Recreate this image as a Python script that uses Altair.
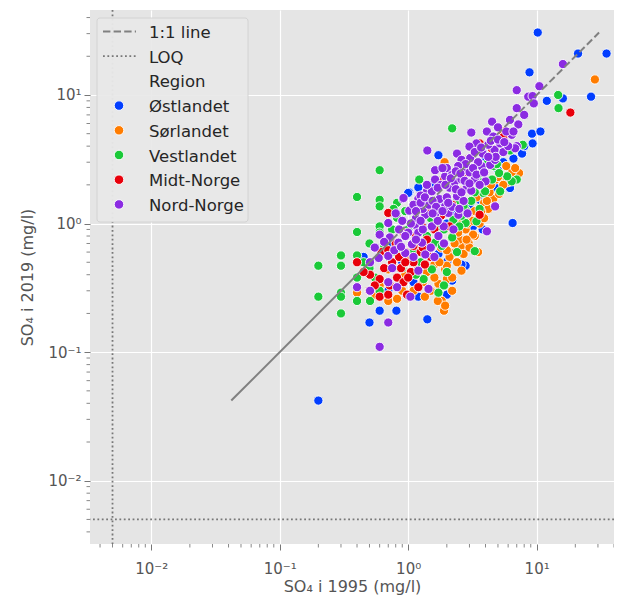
import altair as alt
import pandas as pd

# ---------------- data ----------------
regions = ["Østlandet", "Sørlandet", "Vestlandet", "Midt-Norge", "Nord-Norge"]
colors = ["#023eff", "#ff7c00", "#1ac938", "#e8000b", "#8b2be2"]

ost_x = [10.2, 21, 35, 8.8, 26.5, 12, 16, 9.2, 10.7, 9.3, 6.6, 7.7, 5.4, 6.2, 6.5, 3.6, 2.4, 1.72, 2.02, 2.8,
         1.72, 1.02, 1.2, 1.0, 0.2, 0.5, 1.41, 0.6, 0.81, 1.2, 2.0, 4.2, 5.0, 3.0, 1.5, 0.9, 2.8, 1.3, 2.0, 3.3,
         5.5, 4.8, 0.7, 1.1, 2.2, 1.8, 4.0, 6.8, 0.45, 3.8, 2.6, 1.6, 0.75, 8.0, 3.2, 2.3]
ost_y = [30.6, 21, 21, 15, 9.7, 9.0, 9.4, 5.0, 5.2, 4.2, 3.2, 3.5, 4.5, 1.89, 1.01, 1.53, 0.82, 0.58, 0.51, 0.47,
         3.4, 1.75, 1.91, 1.73, 0.042, 0.17, 0.18, 0.21, 0.21, 0.27, 0.28, 2.0, 2.6, 1.4, 0.45, 0.5, 2.1, 0.95, 1.0, 2.3,
         3.0, 1.9, 0.3, 0.35, 0.36, 1.5, 3.3, 2.5, 0.55, 0.9, 0.48, 2.0, 0.7, 4.0, 0.95, 1.2]

sor_x = [28.4, 7.3, 5.7, 6.4, 4.6, 3.3, 1.92, 2.6, 2.95, 3.3, 3.2, 2.3, 2.25, 1.94, 1.72, 1.83, 1.9, 2.0, 0.7, 0.4,
         0.7, 0.82, 5.3, 6.0, 4.8, 5.5, 3.9, 4.2, 3.6, 2.8, 2.5, 2.1, 1.6, 1.4, 1.3, 1.1, 1.5, 2.4, 2.7, 3.0,
         3.9, 4.3, 5.1, 2.2, 1.8, 1.2, 0.95, 0.6, 0.55, 1.6, 2.0, 2.6, 3.4, 4.0, 6.8, 5.8, 1.7, 2.2, 1.35, 0.9,
         1.0, 3.0, 2.3, 1.94, 2.2, 2.6, 1.44, 3.5, 2.45, 2.9, 3.2, 3.7, 4.1, 4.4, 5.0, 2.0, 1.75, 2.85]
sor_y = [13.2, 2.47, 2.33, 2.5, 1.56, 0.80, 3.0, 0.67, 0.71, 1.25, 0.82, 0.61, 0.59, 0.44, 0.34, 0.25, 0.21, 0.37, 0.44, 0.29,
         0.25, 0.26, 5.3, 2.1, 2.2, 2.0, 1.45, 1.3, 1.0, 0.9, 0.75, 0.55, 0.48, 0.42, 0.35, 0.3, 0.3, 0.5, 0.58, 0.65,
         1.1, 1.75, 1.7, 0.8, 0.65, 0.45, 0.4, 0.33, 0.28, 0.38, 0.47, 1.0, 1.6, 1.9, 2.7, 2.8, 0.25, 0.3, 0.27, 0.3,
         0.52, 1.1, 0.7, 0.23, 0.38, 0.43, 0.62, 0.6, 0.85, 1.0, 1.05, 1.25, 1.5, 2.0, 2.3, 0.62, 0.5, 0.75]

vest_x = [2.2, 0.6, 0.4, 0.4, 0.2, 0.2, 0.3, 0.3, 0.3, 0.3, 0.3, 0.6, 0.6, 1.22, 14.7, 14.8, 7.8, 7.0, 6.4, 5.9,
          3.3, 0.82, 0.82, 0.6, 0.6, 0.4, 0.4, 0.4, 0.505, 0.6, 1.32, 1.72, 1.53, 1.62, 1.83, 2.8, 3.4, 2.8, 2.25, 3.85,
          5.1, 4.5, 5.2, 3.97, 3.3, 2.7, 0.77, 1.9, 0.5, 0.5, 0.55, 0.8, 0.9, 1.0, 1.1, 1.25, 1.4, 1.5, 1.9, 2.1,
          2.4, 2.5, 3.0, 3.5, 4.2, 5.0, 6.2, 2.0, 2.4, 1.15, 0.7, 0.75, 0.95, 1.3, 3.6, 4.6, 2.2, 0.45,
          2.6, 3.1, 3.8, 1.7, 2.2, 4.9, 1.2, 0.65]
vest_y = [5.5, 2.6, 1.61, 0.86, 0.47, 0.27, 0.565, 0.47, 0.29, 0.27, 0.2, 1.53, 1.36, 2.2, 10.0, 7.9, 4.1, 2.2, 2.13, 2.33,
          0.61, 1.45, 1.11, 0.95, 0.85, 0.565, 0.38, 0.25, 0.25, 0.30, 0.37, 0.29, 0.44, 0.71, 0.67, 1.01, 1.04, 1.28, 1.07, 1.73,
          2.47, 2.2, 1.78, 1.78, 1.75, 1.36, 1.3, 0.33, 0.7, 0.45, 0.38, 0.6, 0.45, 0.9, 0.62, 0.5, 0.8, 1.1, 0.9, 1.3,
          1.5, 0.95, 1.9, 2.4, 3.0, 3.5, 3.7, 0.42, 0.6, 0.4, 0.55, 0.9, 1.25, 1.5, 1.3, 2.8, 2.0, 0.5,
          1.15, 1.5, 2.1, 0.95, 0.78, 2.9, 0.7, 0.65]

midt_x = [18.3, 3.6, 0.70, 0.40, 0.505, 0.6, 0.6, 0.70, 0.82, 0.92, 1.1, 1.2, 1.89, 3.6, 0.92, 1.1, 1.28, 0.55, 0.65, 0.75,
          0.85, 0.95, 1.05, 1.25, 1.4, 1.6, 0.8, 0.5, 0.62, 1.15, 1.35, 0.88, 1.0, 1.8, 2.2, 2.5, 2.8, 1.5, 0.45, 0.98,
          1.2, 2.1, 3.0, 4.5, 5.5, 0.72, 0.7, 0.95, 1.3, 1.5]
midt_y = [7.3, 4.2, 1.21, 0.50, 0.40, 0.37, 0.27, 0.28, 0.38, 0.35, 0.50, 1.28, 2.2, 1.17, 0.85, 0.67, 0.95, 0.33, 0.45, 0.5,
          0.55, 0.6, 0.42, 0.6, 0.75, 0.9, 0.7, 0.3, 0.6, 0.8, 0.48, 0.45, 0.38, 1.15, 1.4, 1.8, 2.5, 1.3, 0.42, 0.28,
          0.32, 0.95, 3.2, 3.8, 4.7, 0.33, 0.62, 0.5, 0.65, 0.55]

nord_x = [16, 7.0, 10.5, 8.6, 9.3, 9.5, 7.0, 4.5, 6.2, 7.2, 3.1, 4.1, 4.6, 6.4, 7.0, 6.8, 5.5, 4.7, 4.2, 3.4,
          3.0, 1.41, 2.4, 2.6, 3.04, 3.75, 4.35, 4.75, 4.75, 2.46, 2.06, 4.1, 1.62, 1.62, 1.2, 1.4, 1.53, 0.91, 1.02, 0.6,
          0.7, 0.72, 0.95, 0.82, 1.04, 1.44, 0.6, 0.7, 0.505, 0.59, 0.70, 0.40, 0.505, 0.70, 0.92, 1.25, 1.94, 2.7, 3.3, 4.0,
          2.85, 2.4, 1.94, 1.62, 1.36, 1.13, 1.0, 1.53, 1.89, 2.25, 1.72, 1.28, 1.07, 1.36, 0.84, 1.8, 2.1, 2.3, 2.6, 3.0,
          3.5, 2.0, 1.75, 2.0, 2.7, 3.1, 3.6, 1.3, 1.45, 1.15, 0.85, 0.9, 1.2, 1.5, 1.1, 0.78, 0.55, 0.65, 2.2, 2.5,
          1.7, 3.8, 4.8, 5.2, 5.8, 2.8, 2.2, 1.4, 1.1, 0.8, 3.3, 4.4, 6.0, 5.0, 8.0, 1.85, 2.45, 1.3, 1.6, 1.9,
          2.9, 0.75, 1.2,
          1.15, 1.25, 1.35, 1.55, 1.65, 1.7, 1.95, 2.15, 2.35, 2.55, 2.75, 3.2, 3.4, 3.9, 2.05, 2.35, 1.05, 0.95,
          1.25, 1.55, 1.85, 0.88, 1.15, 2.6, 3.0, 4.2, 5.0, 5.6, 6.6, 3.7]
nord_y = [17.4, 10.9, 11.7, 9.7, 9.8, 8.6, 7.9, 6.2, 6.4, 5.9, 5.1, 5.2, 4.75, 4.9, 4.0, 3.85, 3.6, 3.75, 4.1, 4.2,
          3.97, 3.7, 3.5, 3.13, 3.23, 2.78, 2.86, 3.13, 1.36, 1.17, 1.21, 0.87, 2.6, 2.2, 1.56, 1.78, 1.78, 1.55, 1.26, 0.82,
          1.01, 0.78, 0.59, 0.32, 0.27, 0.31, 0.11, 0.17, 0.50, 0.54, 0.56, 0.32, 0.30, 0.35, 1.58, 1.65, 2.33, 2.6, 2.2, 2.13,
          1.89, 1.63, 1.36, 1.17, 1.17, 0.98, 0.85, 0.95, 0.95, 0.90, 0.80, 0.71, 0.69, 0.575, 0.71, 2.0, 1.9, 2.1, 2.2, 2.5,
          3.0, 2.7, 1.55, 1.6, 1.5, 1.8, 2.0, 1.3, 1.4, 1.1, 0.9, 1.05, 0.85, 0.65, 0.55, 0.62, 0.65, 0.72, 1.35, 1.3,
          1.05, 3.5, 3.3, 4.2, 5.2, 2.9, 2.4, 2.0, 1.4, 1.2, 3.6, 4.4, 4.0, 5.6, 7.0, 2.7, 2.8, 0.9, 0.55, 0.7,
          1.2, 0.45, 0.43,
          1.25, 1.45, 1.6, 1.5, 1.35, 1.9, 2.0, 2.25, 2.55, 2.45, 2.15, 2.7, 2.4, 2.5, 1.45, 1.85, 1.0, 0.8,
          1.05, 1.2, 1.25, 0.66, 0.75, 1.75, 2.05, 3.3, 4.5, 4.3, 5.2, 3.9]

loq_value = [0.005]
major_ticks = [0.01, 0.1, 1, 10]
x_title = "SO₄ i 1995 (mg/l)"
y_title = "SO₄ i 2019 (mg/l)"
legend_lines = ["1:1 line", "LOQ"]

# ---------------- build tables ----------------
frames = []
for name, xs, ys in zip(regions, [ost_x, sor_x, vest_x, midt_x, nord_x], [ost_y, sor_y, vest_y, midt_y, nord_y]):
    assert len(xs) == len(ys), name
    frames.append(pd.DataFrame({"x1995": xs, "y2019": ys, "Region": name}))
df = pd.concat(frames, ignore_index=True)

W, H = 524, 534
XDOM = [0.00334, 40.0]
YDOM = [0.00322, 45.8]
xscale = alt.Scale(type="log", domain=XDOM, nice=False)
yscale = alt.Scale(type="log", domain=YDOM, nice=False)

label_expr = ("datum.value < 0.05 ? '10⁻²' : datum.value < 0.5 ? '10⁻¹' : "
              "datum.value < 5 ? '10⁰' : '10¹'")

GRAY = "#555555"
FONT = "DejaVu Sans"

x_axis = alt.Axis(values=major_ticks, labelExpr=label_expr, title=x_title, grid=True,
                  gridColor="white", gridWidth=1.2, tickSize=6, tickColor="#777", domain=False,
                  labelFontSize=15, labelColor=GRAY, labelFont=FONT, labelPadding=11,
                  titleFontSize=16, titleColor=GRAY, titleFont=FONT, titleFontWeight="normal",
                  titlePadding=2)
y_axis = alt.Axis(values=major_ticks, labelExpr=label_expr, title=y_title, grid=True,
                  gridColor="white", gridWidth=1.2, tickSize=6, tickColor="#777", domain=False,
                  labelFontSize=15, labelColor=GRAY, labelFont=FONT, labelPadding=3,
                  titleFontSize=16, titleColor=GRAY, titleFont=FONT, titleFontWeight="normal",
                  titlePadding=12)

X = lambda f: alt.X(f, scale=xscale, axis=x_axis)
Y = lambda f: alt.Y(f, scale=yscale, axis=y_axis)

points = alt.Chart(df).mark_circle(size=85, stroke="white", strokeWidth=0.9, opacity=1).encode(
    x=X("x1995:Q"),
    y=Y("y2019:Q"),
    color=alt.Color("Region:N", scale=alt.Scale(domain=regions, range=colors), legend=None),
)

# LOQ dotted lines
loq_df = pd.DataFrame({"v": loq_value})
vloq = alt.Chart(loq_df).mark_rule(color="#777", strokeWidth=1.8, strokeDash=[1.8, 2.6]).encode(x=X("v:Q"))
hloq = alt.Chart(loq_df).mark_rule(color="#777", strokeWidth=1.8, strokeDash=[1.8, 2.6]).encode(y=Y("v:Q"))

# 1:1 line from the smallest to the largest 2019 value
ymin, ymax = float(df["y2019"].min()), float(df["y2019"].max())
split = 0.75
solid_df = pd.DataFrame({"v": [ymin, split]})
dash_df = pd.DataFrame({"v": [split, ymax]})
diag_solid = alt.Chart(solid_df).mark_line(color="#808080", strokeWidth=2).encode(x=X("v:Q"), y=Y("v:Q"))
diag_dash = alt.Chart(dash_df).mark_line(color="#808080", strokeWidth=2, strokeDash=[7.4, 3.2]).encode(
    x=X("v:Q"), y=Y("v:Q"))

# minor ticks (log axis)
minor = [m * 10.0 ** k for k in range(-3, 2) for m in range(2, 10)]
xminor = pd.DataFrame({"v": [v for v in minor if XDOM[0] <= v <= XDOM[1]]})
yminor = pd.DataFrame({"v": [v for v in minor if YDOM[0] <= v <= YDOM[1]]})
xminor_rules = alt.Chart(xminor).mark_rule(color="#888", strokeWidth=1).encode(
    x=X("v:Q"), y=alt.value(H), y2=alt.value(H + 3.5))
yminor_rules = alt.Chart(yminor).mark_rule(color="#888", strokeWidth=1).encode(
    y=Y("v:Q"), x=alt.value(0), x2=alt.value(-3.5))

# ---------------- hand-built legend ----------------
one = pd.DataFrame({"a": [0]})
legend_layers = [
    alt.Chart(one).mark_rect(fill="#e9e9e9", stroke="#d2d2d2", strokeWidth=1, cornerRadius=3, opacity=0.95).encode(
        x=alt.value(7), x2=alt.value(158), y=alt.value(8), y2=alt.value(212))
]
row0, step = 21.5, 24.7
lx, tx = 13, 59
legend_layers.append(alt.Chart(one).mark_rule(color="#808080", strokeWidth=2, strokeDash=[7.4, 3.2]).encode(
    x=alt.value(lx), x2=alt.value(lx + 33), y=alt.value(row0), y2=alt.value(row0)))
legend_layers.append(alt.Chart(one).mark_rule(color="#777", strokeWidth=1.8, strokeDash=[1.8, 2.6]).encode(
    x=alt.value(lx), x2=alt.value(lx + 33), y=alt.value(row0 + step), y2=alt.value(row0 + step)))
texts = legend_lines + ["Region"] + regions
for i, t in enumerate(texts):
    legend_layers.append(alt.Chart(pd.DataFrame({"t": [t]})).mark_text(
        align="left", baseline="middle", font=FONT, fontSize=16.5, color="#262626", dy=1.5).encode(
        text="t:N", x=alt.value(tx), y=alt.value(row0 + i * step)))
for j, (r, c) in enumerate(zip(regions, colors)):
    legend_layers.append(alt.Chart(one).mark_circle(size=90, color=c, stroke="white", strokeWidth=0.9, opacity=1).encode(
        x=alt.value(29), y=alt.value(row0 + (3 + j) * step)))

chart = alt.layer(
    points, vloq, hloq, diag_solid, diag_dash, xminor_rules, yminor_rules, *legend_layers
).properties(
    width=W, height=H,
    padding={"left": 82, "top": 2, "right": 0, "bottom": 54},
    autosize=alt.AutoSizeParams(type="none"),
).configure_view(fill="#E5E5E5", stroke=None)

chart.save("out.html", embed_options={"renderer": "svg", "actions": False})
